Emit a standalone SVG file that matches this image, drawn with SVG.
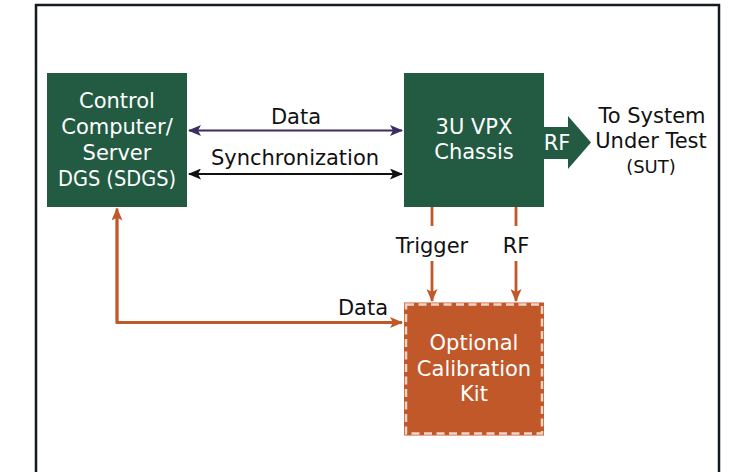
<svg xmlns="http://www.w3.org/2000/svg" width="736" height="472" viewBox="0 0 736 472">
<defs>
<style>
.box{fill:#225b42}
.cal{fill:#c0582a}
.t{font-family:"DejaVu Sans","Liberation Sans",sans-serif;font-size:21px;text-anchor:middle}
.w{fill:#ffffff}
.k{fill:#111111}
.or{stroke:#c0582a;stroke-width:2.8;fill:none}
</style>
<marker id="ap" viewBox="0 0 13 11" refX="12" refY="5.5" markerWidth="13" markerHeight="11" markerUnits="userSpaceOnUse" orient="auto-start-reverse"><path d="M0,0 L13,5.5 L0,11 L3,5.5 Z" fill="#3b2d5c"/></marker>
<marker id="ak" viewBox="0 0 13 11" refX="12" refY="5.5" markerWidth="13" markerHeight="11" markerUnits="userSpaceOnUse" orient="auto-start-reverse"><path d="M0,0 L13,5.5 L0,11 L3,5.5 Z" fill="#111111"/></marker>
<marker id="ao" viewBox="0 0 13 11" refX="12" refY="5.5" markerWidth="13" markerHeight="11" markerUnits="userSpaceOnUse" orient="auto"><path d="M0,0 L13,5.5 L0,11 L3,5.5 Z" fill="#c0582a"/></marker>
</defs>
<rect width="736" height="472" fill="#ffffff"/>
<rect x="36" y="5" width="683" height="480" fill="none" stroke="#131a22" stroke-width="2.5"/>

<g id="connectors">
<line x1="189" y1="130.5" x2="402" y2="130.5" stroke="#3b2d5c" stroke-width="2.2" marker-start="url(#ap)" marker-end="url(#ap)"/>
<line x1="189" y1="174" x2="402" y2="174" stroke="#111111" stroke-width="2.2" marker-start="url(#ak)" marker-end="url(#ak)"/>
<polyline class="or" points="117,215 117,322.5 402,322.5" marker-end="url(#ao)"/>
<line class="or" x1="117" y1="322.5" x2="117" y2="208.5" marker-end="url(#ao)"/>
<line class="or" x1="432" y1="207" x2="432" y2="226"/>
<line class="or" x1="432" y1="261" x2="432" y2="301" marker-end="url(#ao)"/>
<line class="or" x1="516" y1="207" x2="516" y2="226"/>
<line class="or" x1="516" y1="261" x2="516" y2="301" marker-end="url(#ao)"/>
<text class="t k" x="296" y="124">Data</text>
<text class="t k" x="295" y="165">Synchronization</text>
<text class="t k" x="432" y="253">Trigger</text>
<text class="t k" x="516" y="253">RF</text>
<text class="t k" x="363" y="315">Data</text>
</g>

<g id="control">
<rect class="box" x="47" y="73" width="140" height="134"/>
<text class="t w" x="117" y="108">Control</text>
<text class="t w" x="117" y="134">Computer/</text>
<text class="t w" x="117" y="160">Server</text>
<text class="t w" x="117" y="186" textLength="118" lengthAdjust="spacingAndGlyphs">DGS (SDGS)</text>
</g>

<g id="chassis">
<rect class="box" x="404" y="73" width="140" height="134"/>
<text class="t w" x="474" y="134">3U VPX</text>
<text class="t w" x="474" y="159">Chassis</text>
</g>

<g id="rf-out">
<polygon class="box" points="543,127 568,127 568,116 591,142.5 568,169 568,159 543,159"/>
<text class="t w" x="557" y="150">RF</text>
</g>

<g id="sut">
<text class="t k" x="652" y="123">To System</text>
<text class="t k" x="651" y="148">Under Test</text>
<text class="t k" x="651" y="173" style="font-size:18px">(SUT)</text>
</g>

<g id="calibration">
<rect class="cal" x="404" y="302.5" width="140" height="133"/>
<rect x="406" y="304.5" width="136" height="129" fill="none" stroke="#f2d4c6" stroke-width="2.5" stroke-dasharray="8,4.5"/>
<text class="t w" x="474" y="350">Optional</text>
<text class="t w" x="474" y="376">Calibration</text>
<text class="t w" x="474" y="401">Kit</text>
</g>
</svg>
